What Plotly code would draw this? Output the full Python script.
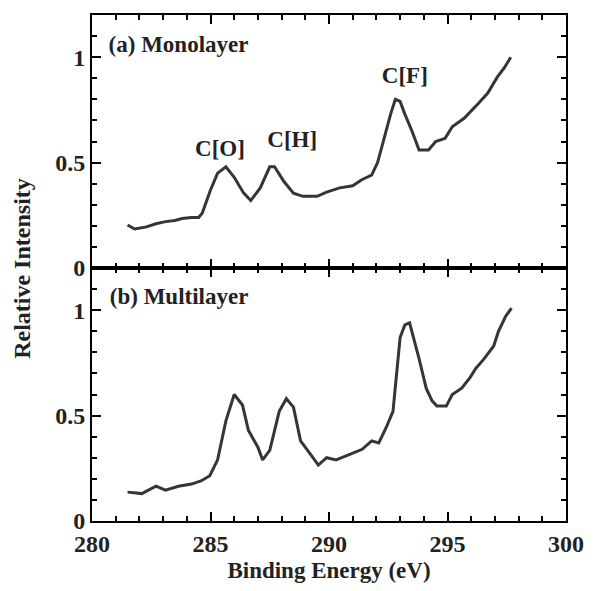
import plotly.graph_objects as go
from plotly.subplots import make_subplots

# Monolayer spectrum (a)
mono_x = [281.5, 281.8, 282.3, 282.7, 283.1, 283.5, 283.8, 284.2, 284.5, 284.65, 285.0, 285.3, 285.65,
          286.0, 286.4, 286.7, 287.1, 287.5, 287.7, 288.1, 288.5, 288.9, 289.5, 289.9, 290.45,
          291.0, 291.4, 291.8, 292.05, 292.3, 292.6, 292.8, 293.0, 293.2, 293.5, 293.8, 294.2,
          294.5, 294.9, 295.2, 295.7, 296.3, 296.7, 297.1, 297.4, 297.67]
mono_y = [0.204, 0.185, 0.195, 0.21, 0.22, 0.225, 0.235, 0.24, 0.24, 0.26, 0.37, 0.45, 0.48,
          0.43, 0.355, 0.32, 0.38, 0.48, 0.48, 0.41, 0.355, 0.34, 0.34, 0.36, 0.38,
          0.39, 0.42, 0.44, 0.50, 0.61, 0.73, 0.80, 0.79, 0.73, 0.65, 0.56, 0.56,
          0.60, 0.615, 0.67, 0.71, 0.78, 0.83, 0.905, 0.95, 1.0]

# Multilayer spectrum (b)
multi_x = [281.5, 282.1, 282.7, 283.1, 283.65, 284.2, 284.6, 284.97, 285.3, 285.65, 286.0, 286.35,
           286.6, 287.0, 287.2, 287.5, 287.9, 288.2, 288.5, 288.8, 289.2, 289.55, 289.9, 290.3,
           290.85, 291.4, 291.8, 292.1, 292.4, 292.7, 293.0, 293.2, 293.4, 293.55, 293.8, 294.1,
           294.35, 294.55, 294.95, 295.2, 295.6, 295.95, 296.2, 296.55, 296.95, 297.15, 297.45, 297.7]
multi_y = [0.137, 0.13, 0.165, 0.146, 0.165, 0.175, 0.19, 0.215, 0.29, 0.475, 0.60, 0.55,
           0.43, 0.35, 0.29, 0.335, 0.52, 0.58, 0.54, 0.38, 0.32, 0.265, 0.30, 0.29,
           0.315, 0.34, 0.38, 0.37, 0.44, 0.52, 0.87, 0.93, 0.94, 0.88, 0.77, 0.63,
           0.57, 0.545, 0.545, 0.60, 0.63, 0.68, 0.725, 0.77, 0.83, 0.90, 0.97, 1.01]

peak_labels = ["C[O]", "C[H]", "C[F]"]
peak_x = [285.4, 288.45, 293.2]
peak_y = [0.56, 0.60, 0.905]

panel_labels = ["(a) Monolayer", "(b) Multilayer"]
panel_x = [280.7, 280.75]
panel_y = [1.05, 1.057]
y_tickvals = [0, 0.5, 1]

FONT = "Liberation Serif"
LINE = "#353535"
INK = "#222222"

text_font = dict(family=FONT, size=23, color=INK, weight="bold")

fig = make_subplots(rows=2, cols=1, shared_xaxes=True, vertical_spacing=0)
fig.add_trace(go.Scatter(x=mono_x, y=mono_y, mode="lines",
                         line=dict(color=LINE, width=3), showlegend=False), row=1, col=1)
fig.add_trace(go.Scatter(x=multi_x, y=multi_y, mode="lines",
                         line=dict(color=LINE, width=3), showlegend=False), row=2, col=1)

fig.add_trace(go.Scatter(x=peak_x, y=peak_y, mode="text", text=peak_labels,
                         textposition="middle center", textfont=text_font,
                         showlegend=False, hoverinfo="skip"), row=1, col=1)
fig.add_trace(go.Scatter(x=[panel_x[0]], y=[panel_y[0]], mode="text", text=[panel_labels[0]],
                         textposition="middle right", textfont=text_font,
                         showlegend=False, hoverinfo="skip"), row=1, col=1)
fig.add_trace(go.Scatter(x=[panel_x[1]], y=[panel_y[1]], mode="text", text=[panel_labels[1]],
                         textposition="middle right", textfont=text_font,
                         showlegend=False, hoverinfo="skip"), row=2, col=1)

fig.update_xaxes(range=[280, 300], showline=True, linewidth=2, linecolor="black", mirror="allticks",
                 ticks="inside", ticklen=9, tickwidth=2, tickcolor="black", showgrid=False,
                 minor=dict(dtick=1, ticks="inside", ticklen=5, tickcolor="black"))
fig.update_yaxes(range=[0, 1.2], tickvals=y_tickvals, showline=True, linewidth=2, linecolor="black",
                 mirror="allticks", ticks="inside", ticklen=9, tickwidth=2, tickcolor="black",
                 showgrid=False,
                 minor=dict(dtick=0.1, ticks="inside", ticklen=5, tickcolor="black"))

fig.update_xaxes(title=dict(text="Binding Energy (eV)", font=text_font, standoff=6), row=2, col=1)

fig.add_annotation(x=-0.148, y=0.5, xref="paper", yref="paper", text="Relative Intensity",
                   textangle=-90, showarrow=False, xanchor="center", yanchor="middle",
                   font=dict(family=FONT, size=24, color=INK, weight="bold"))

fig.update_layout(width=596, height=591, margin=dict(l=92, r=23, t=15, b=67),
                  font=dict(family=FONT, size=24, color=INK, weight="bold"),
                  plot_bgcolor="white", showlegend=False)

fig.write_html("out.html")
